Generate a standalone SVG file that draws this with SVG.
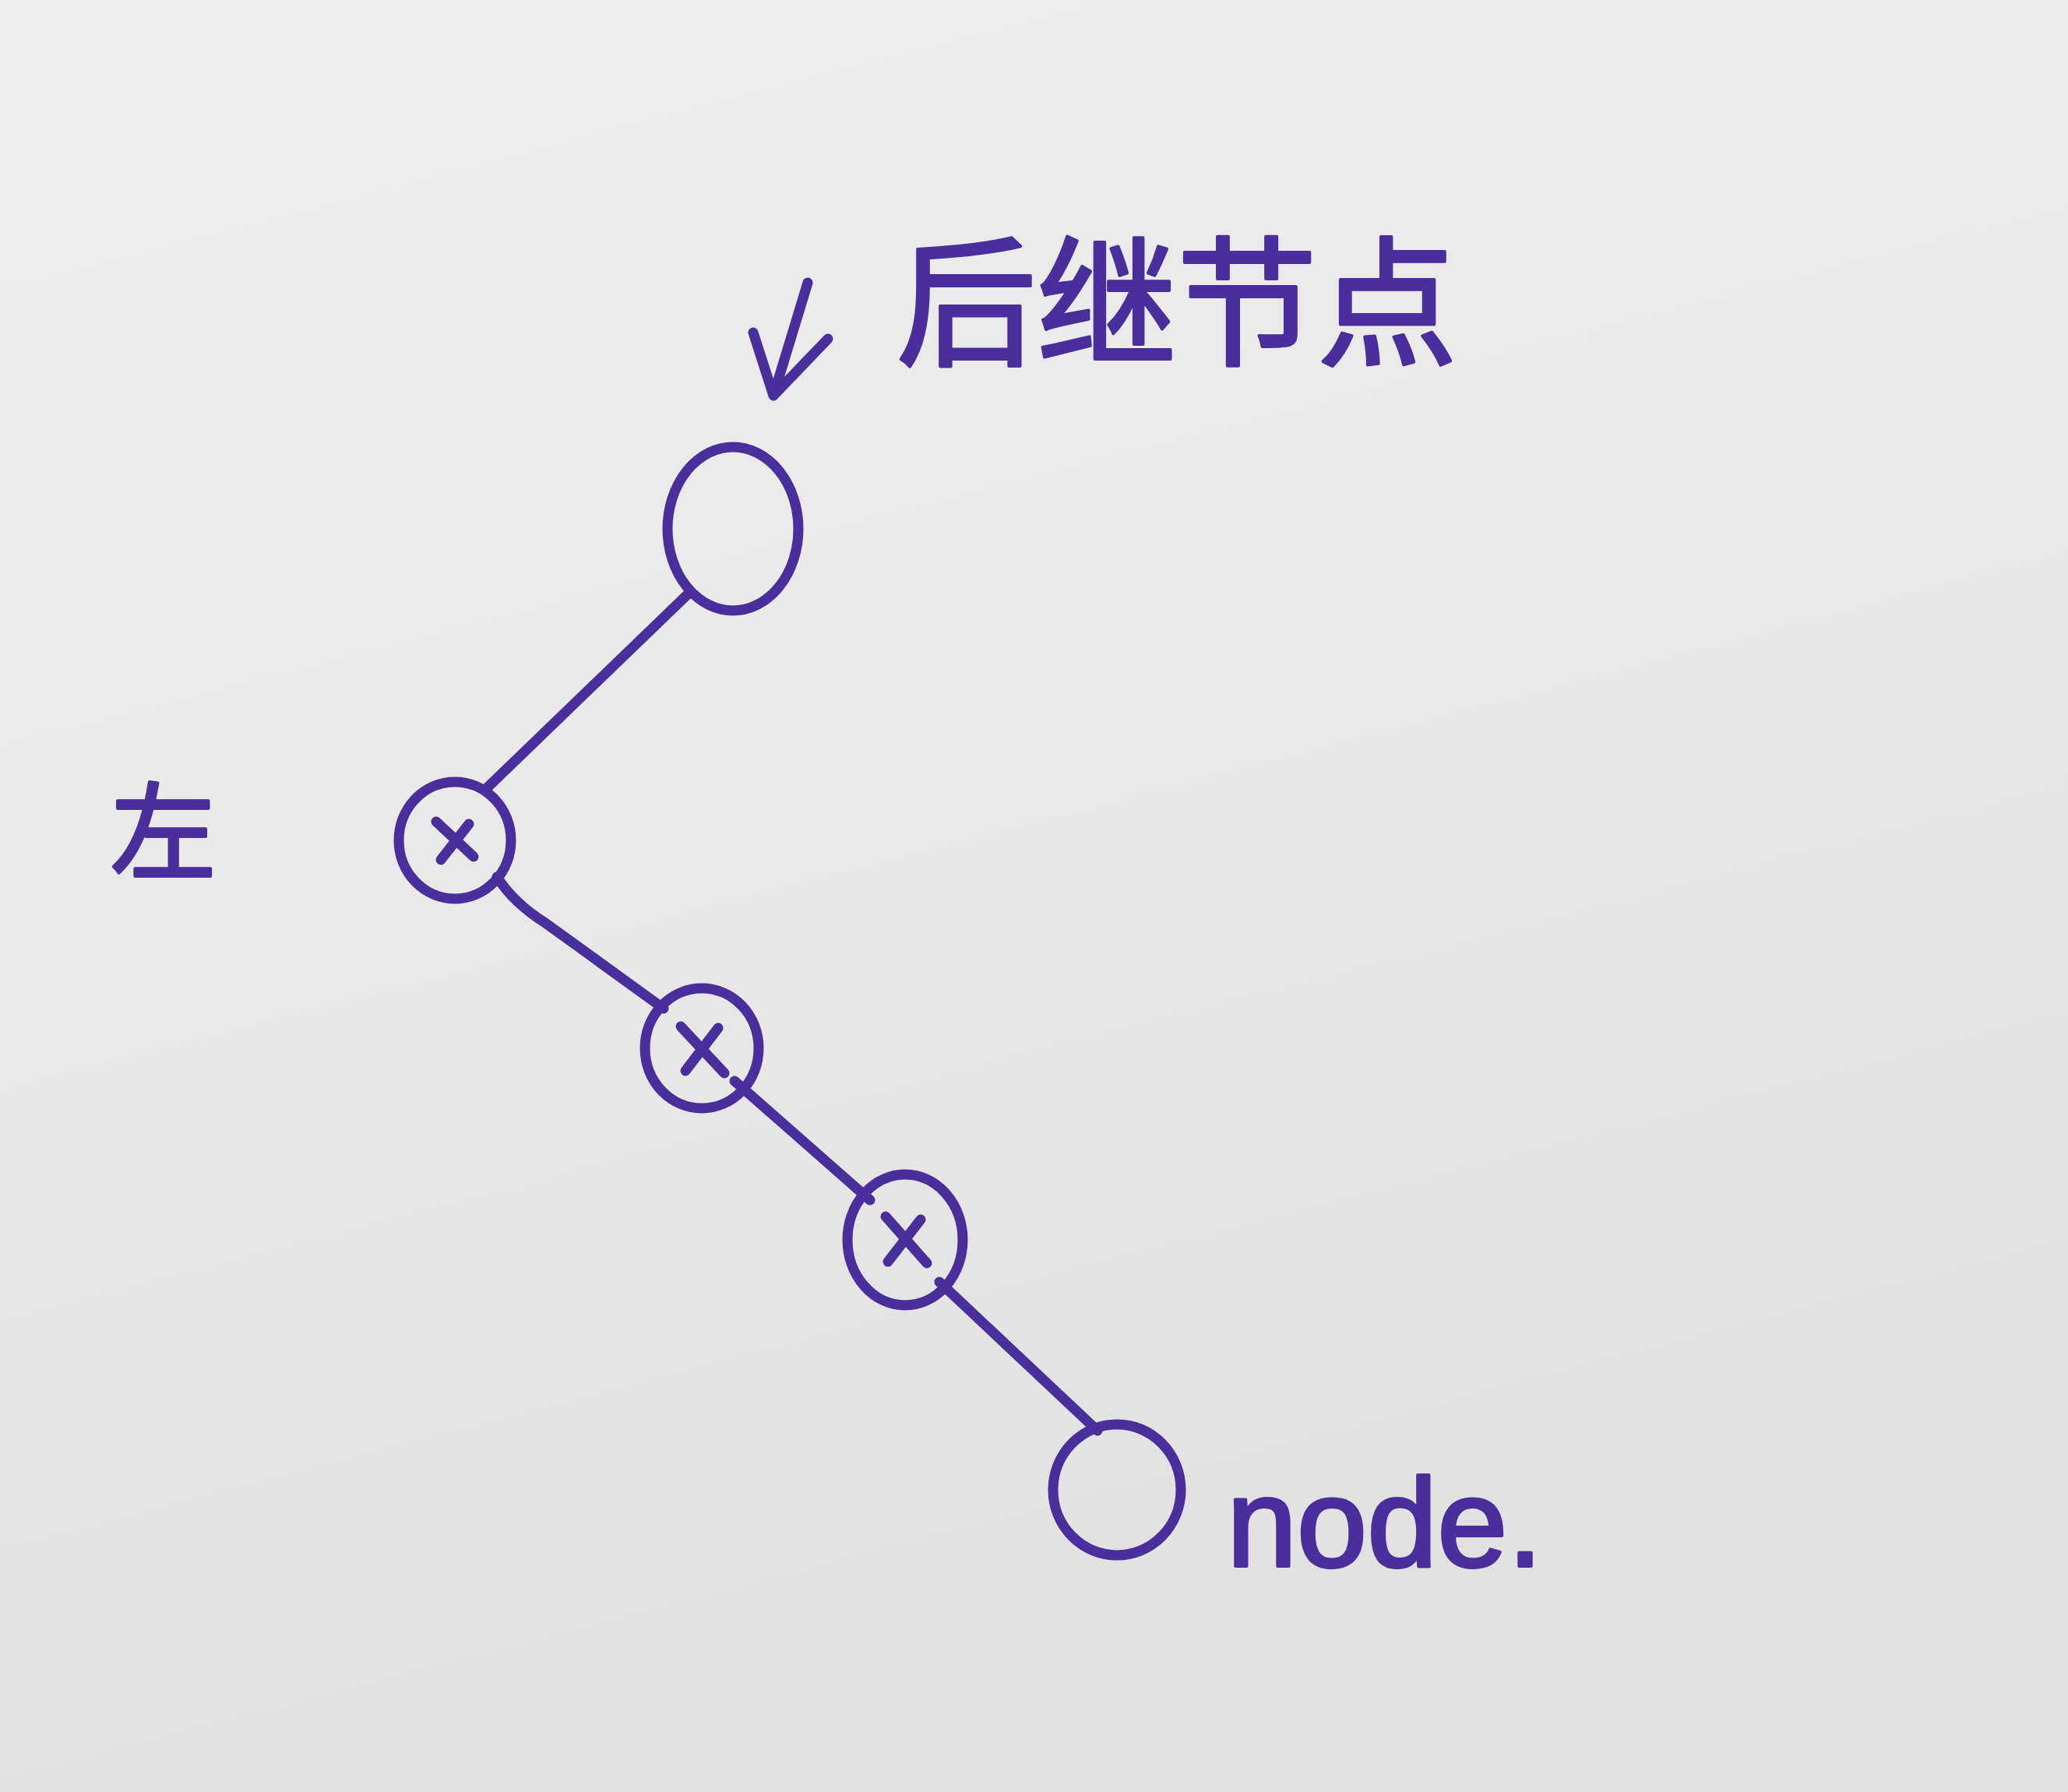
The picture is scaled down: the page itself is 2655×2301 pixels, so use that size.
<svg xmlns="http://www.w3.org/2000/svg" width="2655" height="2301" viewBox="0 0 2655 2301">
<defs>
<linearGradient id="paper" x1="0" y1="0" x2="0.3" y2="1">
<stop offset="0" stop-color="#ededed"/>
<stop offset="0.5" stop-color="#e9e9e9"/>
<stop offset="1" stop-color="#e1e1e1"/>
</linearGradient>
<style>
.ink{fill:none;stroke:#4a2e9c;stroke-width:13;stroke-linecap:round;stroke-linejoin:round}
.lbl{fill:#4a2e9c;stroke:#4a2e9c;stroke-width:4;stroke-linejoin:round;font-family:"Liberation Sans","Noto Sans CJK SC",sans-serif}
.cjk{font-family:"Noto Sans CJK SC",sans-serif}
</style>
</defs>
<rect width="2655" height="2301" fill="url(#paper)"/>
<g id="connectors">
<path class="ink" d="M884,762 L626,1011"/>
<path class="ink" d="M638,1126 Q660,1160 700,1185 L852,1295"/>
<path class="ink" d="M943,1388 L1117,1541"/>
<path class="ink" d="M1206,1646 L1409,1837"/>
</g>
<g id="successor-arrow">
<path class="ink" d="M1037,363 L993,508 M967,427 L993,508 L1063,435"/>
</g>
<g id="label-successor">
<text class="lbl cjk" x="1151" y="455" font-size="180">后继节点</text>
</g>
<g id="node-successor">
<ellipse class="ink" cx="941" cy="679" rx="84" ry="105"/>
</g>
<g id="node-x1">
<ellipse class="ink" cx="584" cy="1079" rx="72" ry="75"/>
<path class="ink" d="M560,1055 L608,1100 M602,1058 L566,1104"/>
</g>
<g id="label-left">
<text class="lbl cjk" x="142" y="1118" font-size="135">左</text>
</g>
<g id="node-x2">
<ellipse class="ink" cx="901" cy="1346" rx="73" ry="77"/>
<path class="ink" d="M874,1318 L930,1378 M922,1320 L880,1375"/>
</g>
<g id="node-x3">
<ellipse class="ink" cx="1162" cy="1592" rx="74" ry="84"/>
<path class="ink" d="M1137,1562 L1190,1622 M1182,1566 L1140,1620"/>
</g>
<g id="node-node">
<ellipse class="ink" cx="1434" cy="1913" rx="82" ry="84"/>
</g>
<g id="label-node">
<text class="lbl" x="1575" y="2011" font-size="162">node.</text>
</g>
</svg>
